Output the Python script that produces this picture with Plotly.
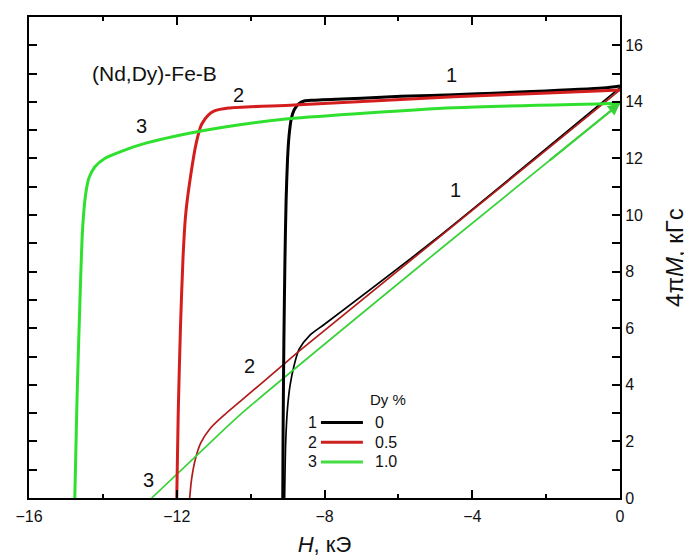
import plotly.graph_objects as go

# ---- data (H in kOe, 4piM in kG) ----
dy_labels = ["0", "0.5", "1.0"]
curve_numbers = ["1", "2", "3"]

# curve 1 (0 % Dy)
h1_top = [0.0, -0.46, -4.5, -5.93, -7.0, -8.3, -8.55, -8.7, -8.82, -8.9, -8.96, -9.0, -9.04, -9.07, -9.1, -9.12, -9.13]
m1_top = [14.56, 14.49, 14.25, 14.2, 14.13, 14.06, 14.03, 13.93, 13.72, 13.4, 12.8, 12.0, 10.5, 8.5, 5.5, 2.5, 0.0]
h1_low = [-9.08, -9.05, -9.0, -8.93, -8.82, -8.69, -8.4, -8.0, -5.04, 0.0]
m1_low = [0.0, 2.0, 3.2, 4.0, 4.7, 5.25, 5.75, 6.14, 9.1, 14.5]

# curve 2 (0.5 % Dy)
h2_top = [0.0, -0.46, -4.5, -8.82, -10.6, -10.98, -11.14, -11.33, -11.47, -11.65, -11.76, -11.83, -11.9, -11.96, -12.0]
m2_top = [14.42, 14.39, 14.18, 13.89, 13.78, 13.68, 13.54, 13.2, 12.56, 11.16, 10.0, 8.5, 6.0, 3.0, 0.0]
h2_low = [-11.65, -11.6, -11.5, -11.35, -11.1, -10.7, -10.25, -9.17, -8.63, 0.0]
m2_low = [0.0, 0.65, 1.35, 1.95, 2.45, 2.95, 3.45, 4.65, 5.25, 14.42]

# curve 3 (1.0 % Dy)
h3_top = [0.0, -0.46, -4.5, -8.98, -10.25, -11.41, -12.95, -13.5, -13.95, -14.22, -14.38, -14.47, -14.55, -14.62, -14.7, -14.76]
m3_top = [13.95, 13.93, 13.79, 13.4, 13.2, 12.95, 12.5, 12.25, 12.0, 11.7, 11.3, 10.7, 9.5, 7.0, 3.5, 0.0]
h3_low = [-12.68, -11.5, -10.25, -4.86, 0.0]
m3_low = [0.0, 1.45, 2.98, 8.8, 13.95]

# axis ticks
x_ticks = [-16, -12, -8, -4, 0]
y_ticks = [0, 2, 4, 6, 8, 10, 12, 14, 16]

FONT = "Arial, Liberation Sans, sans-serif"
TXT = "#111111"
top_colors = ["#000000", "#d41e1e", "#2fe02f"]
low_colors = ["#000000", "#b01c1c", "#3ad23a"]
legend_colors = ["#000000", "#cc2222", "#44dd44"]

fig = go.Figure()
tops = [(h1_top, m1_top), (h2_top, m2_top), (h3_top, m3_top)]
lows = [(h1_low, m1_low), (h2_low, m2_low), (h3_low, m3_low)]

for i in range(3):
    h, m = lows[i]
    fig.add_trace(go.Scatter(x=h, y=m, mode="lines", showlegend=False,
                             name=dy_labels[i] + " (return)",
                             line=dict(color=low_colors[i], width=1.7, shape="spline", smoothing=0.7)))
for i in range(3):
    h, m = tops[i]
    fig.add_trace(go.Scatter(x=h, y=m, mode="lines", name=dy_labels[i], showlegend=False,
                             line=dict(color=top_colors[i], width=3, shape="spline", smoothing=0.7)))

# arrow at the end of green lower branch
fig.add_annotation(x=h3_low[-1], y=m3_low[-1], ax=h3_low[-2] + 0.6 * (h3_low[-1] - h3_low[-2]),
                   ay=m3_low[-2] + 0.6 * (m3_low[-1] - m3_low[-2]),
                   xref="x", yref="y", axref="x", ayref="y", text="",
                   showarrow=True, arrowhead=2, arrowsize=1.1, arrowwidth=2.2,
                   arrowcolor=low_colors[2])

# curve number labels
labels = [("1", -4.56, 14.95), ("2", -10.33, 14.25), ("3", -12.95, 13.16),
          ("1", -4.45, 10.88), ("2", -10.04, 4.65), ("3", -12.76, 0.63)]
for t, x, y in labels:
    fig.add_annotation(x=x, y=y, text=t, showarrow=False, xref="x", yref="y",
                       xanchor="center", yanchor="middle",
                       font=dict(family=FONT, size=20, color=TXT))

fig.add_annotation(x=-12.6, y=15.02, text="(Nd,Dy)-Fe-B", showarrow=False,
                   xanchor="center", yanchor="middle",
                   font=dict(family=FONT, size=21, color=TXT))

# custom legend (Dy %)
fig.add_annotation(x=0.573, y=0.205, xref="paper", yref="paper", text="Dy %",
                   xanchor="left", yanchor="middle", showarrow=False,
                   font=dict(family=FONT, size=15, color=TXT))
row_y = [0.157, 0.116, 0.075]
for i in range(3):
    fig.add_annotation(x=0.479, y=row_y[i], xref="paper", yref="paper", text=curve_numbers[i],
                       xanchor="center", yanchor="middle", showarrow=False,
                       font=dict(family=FONT, size=16, color=TXT))
    fig.add_shape(type="line", xref="paper", yref="paper", x0=0.494, x1=0.565,
                  y0=row_y[i], y1=row_y[i], line=dict(color=legend_colors[i], width=3))
    fig.add_annotation(x=0.582, y=row_y[i], xref="paper", yref="paper", text=dy_labels[i],
                       xanchor="left", yanchor="middle", showarrow=False,
                       font=dict(family=FONT, size=16, color=TXT))

fig.update_layout(
    width=692, height=556,
    margin=dict(l=19, r=80, t=7, b=66),
    plot_bgcolor="white", paper_bgcolor="white",
    font=dict(family=FONT, color=TXT),
    showlegend=False,
    xaxis=dict(range=[-16, 0], tickvals=x_ticks, ticks="inside", ticklen=8, tickwidth=1.5,
               tickcolor="black", showline=True, linecolor="black", linewidth=2,
               mirror="ticks", showgrid=False, zeroline=False, ticklabelstandoff=3,
               minor=dict(dtick=2, tick0=-16, ticks="inside", ticklen=4, tickwidth=1.5, tickcolor="black"),
               tickfont=dict(family=FONT, size=16, color=TXT),
               title=dict(text="<i>H</i>, кЭ", font=dict(family=FONT, size=22), standoff=12)),
    yaxis=dict(range=[0, 17], side="right", tickvals=y_ticks, ticks="inside", ticklen=8, tickwidth=1.5,
               tickcolor="black", showline=True, linecolor="black", linewidth=2,
               mirror="ticks", showgrid=False, zeroline=False,
               minor=dict(dtick=1, tick0=0, ticks="inside", ticklen=8, tickwidth=1.5, tickcolor="black"),
               tickfont=dict(family=FONT, size=16, color=TXT),
               title=dict(text="4π<i>M</i>, кГс", font=dict(family=FONT, size=24), standoff=24)),
)

fig.write_html("out.html")
